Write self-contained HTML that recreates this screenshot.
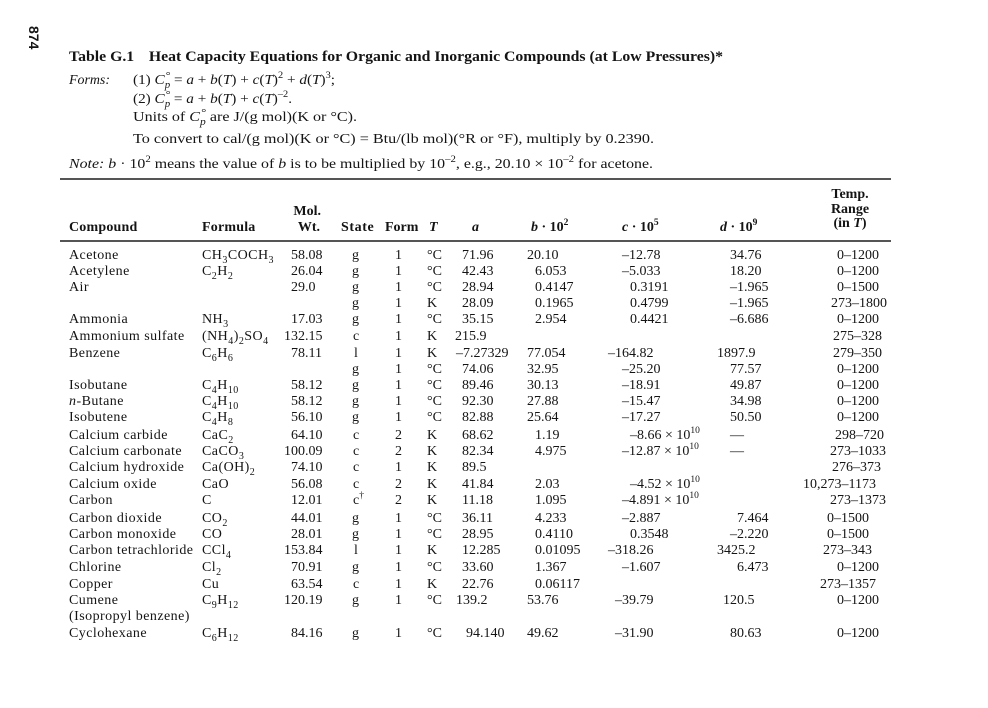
<!DOCTYPE html>
<html>
<head>
<meta charset="utf-8">
<style>
html,body{margin:0;padding:0;background:#fff;}
#pg{position:relative;width:988px;height:708px;overflow:hidden;background:#fff;font-family:"Liberation Serif",serif;font-size:14px;color:#141414;}
.t{position:absolute;white-space:nowrap;line-height:16px;}
.r{position:absolute;left:0;width:988px;height:16px;}
.r>span{position:absolute;top:0;white-space:nowrap;line-height:16px;}
.nm{letter-spacing:0.45px;}
.s{font-size:10px;vertical-align:-4px;line-height:0;}
.p{font-size:9.5px;vertical-align:6px;line-height:0;}
.b{font-weight:bold;}
.rule{position:absolute;left:60px;width:831px;height:1.5px;background:#555;}
.cp{position:relative;}
.cp .dg{position:absolute;left:1px;top:-5px;font-size:11px;font-style:normal;}
.cp .sb{font-size:10px;position:relative;top:4px;font-style:italic;}
.pn{position:absolute;left:27px;top:26px;font-family:"Liberation Sans",sans-serif;font-weight:bold;font-size:14px;line-height:14px;transform-origin:0 0;transform:translate(14px,0) rotate(90deg);}
.r>span.st{left:352px;}
.r>span.stc{left:353px;}
.r>span.stl{left:354px;}
.r>span.fm{left:395px;}
</style>
</head>
<body>
<div id="pg">

<div class="pn">874</div>

<div class="t b fit" style="left:69px;top:48px;font-size:15px;line-height:18px;--w:654px;">Table G.1<span style="display:inline-block;width:14px"></span>Heat Capacity Equations for Organic and Inorganic Compounds (at Low Pressures)*</div>

<div class="t fit" style="left:69px;top:73px;--w:41px;"><i>Forms:</i></div>
<div class="t fit" style="left:133px;top:73px;--w:202px;">(1) <i>C</i><span class="cp"><span class="dg">°</span><span class="sb">p</span></span> = <i>a</i> + <i>b</i>(<i>T</i>) + <i>c</i>(<i>T</i>)<span class="p">2</span> + <i>d</i>(<i>T</i>)<span class="p">3</span>;</div>
<div class="t fit" style="left:133px;top:92px;--w:159px;">(2) <i>C</i><span class="cp"><span class="dg">°</span><span class="sb">p</span></span> = <i>a</i> + <i>b</i>(<i>T</i>) + <i>c</i>(<i>T</i>)<span class="p">–2</span>.</div>
<div class="t fit" style="left:133px;top:110px;--w:224px;">Units of <i>C</i><span class="cp"><span class="dg">°</span><span class="sb">p</span></span> are J/(g mol)(K or °C).</div>
<div class="t fit" style="left:133px;top:132px;--w:521px;">To convert to cal/(g mol)(K or °C) = Btu/(lb mol)(°R or °F), multiply by 0.2390.</div>
<div class="t fit" style="left:69px;top:157px;--w:584px;"><i>Note:</i> <i>b</i> · 10<span class="p">2</span> means the value of <i>b</i> is to be multiplied by 10<span class="p">–2</span>, e.g., 20.10 × 10<span class="p">–2</span> for acetone.</div>

<div class="rule" style="top:178px;"></div>

<!-- header -->
<div class="t b" style="left:69px;top:220px;letter-spacing:0.2px;">Compound</div>
<div class="t b" style="left:202px;top:220px;letter-spacing:0.2px;">Formula</div>
<div class="t b" style="right:667px;top:204px;">Mol.</div>
<div class="t b" style="right:668px;top:220px;">Wt.</div>
<div class="t b" style="left:341px;top:220px;letter-spacing:0.6px;">State</div>
<div class="t b" style="left:385px;top:220px;">Form</div>
<div class="t b" style="left:429px;top:220px;"><i>T</i></div>
<div class="t b" style="left:472px;top:220px;"><i>a</i></div>
<div class="t b" style="left:531px;top:220px;"><i>b</i> · 10<span class="p">2</span></div>
<div class="t b" style="left:622px;top:220px;"><i>c</i> · 10<span class="p">5</span></div>
<div class="t b" style="left:720px;top:220px;"><i>d</i> · 10<span class="p">9</span></div>
<div class="t b" style="left:800px;width:100px;text-align:center;top:187px;">Temp.</div>
<div class="t b" style="left:800px;width:100px;text-align:center;top:202px;">Range</div>
<div class="t b" style="left:800px;width:100px;text-align:center;top:216px;">(in <i>T</i>)</div>

<div class="rule" style="top:240px;"></div>

<!-- rows -->
<div class="r" style="top:248px;">
<span class="nm" style="left:69px;">Acetone</span><span class="nm" style="left:202px;">CH<span class="s">3</span>COCH<span class="s">3</span></span><span style="left:291px;">58.08</span><span class="st">g</span><span class="fm">1</span><span style="left:427px;">°C</span><span style="left:462px;">71.96</span><span style="left:527px;">20.10</span><span style="left:622px;">–12.78</span><span style="left:730px;">34.76</span><span style="left:837px;">0–1200</span>
</div>
<div class="r" style="top:264px;">
<span class="nm" style="left:69px;">Acetylene</span><span class="nm" style="left:202px;">C<span class="s">2</span>H<span class="s">2</span></span><span style="left:291px;">26.04</span><span class="st">g</span><span class="fm">1</span><span style="left:427px;">°C</span><span style="left:462px;">42.43</span><span style="left:535px;">6.053</span><span style="left:622px;">–5.033</span><span style="left:730px;">18.20</span><span style="left:837px;">0–1200</span>
</div>
<div class="r" style="top:280px;">
<span class="nm" style="left:69px;">Air</span><span style="left:291px;">29.0</span><span class="st">g</span><span class="fm">1</span><span style="left:427px;">°C</span><span style="left:462px;">28.94</span><span style="left:535px;">0.4147</span><span style="left:630px;">0.3191</span><span style="left:730px;">–1.965</span><span style="left:837px;">0–1500</span>
</div>
<div class="r" style="top:296px;">
<span class="st">g</span><span class="fm">1</span><span style="left:427px;">K</span><span style="left:462px;">28.09</span><span style="left:535px;">0.1965</span><span style="left:630px;">0.4799</span><span style="left:730px;">–1.965</span><span style="left:831px;">273–1800</span>
</div>
<div class="r" style="top:312px;">
<span class="nm" style="left:69px;">Ammonia</span><span class="nm" style="left:202px;">NH<span class="s">3</span></span><span style="left:291px;">17.03</span><span class="st">g</span><span class="fm">1</span><span style="left:427px;">°C</span><span style="left:462px;">35.15</span><span style="left:535px;">2.954</span><span style="left:630px;">0.4421</span><span style="left:730px;">–6.686</span><span style="left:837px;">0–1200</span>
</div>
<div class="r" style="top:328.5px;">
<span class="nm" style="left:69px;">Ammonium sulfate</span><span class="nm" style="left:202px;">(NH<span class="s">4</span>)<span class="s">2</span>SO<span class="s">4</span></span><span style="left:284px;">132.15</span><span class="stc">c</span><span class="fm">1</span><span style="left:427px;">K</span><span style="left:455px;">215.9</span><span style="left:833px;">275–328</span>
</div>
<div class="r" style="top:345.5px;">
<span class="nm" style="left:69px;">Benzene</span><span class="nm" style="left:202px;">C<span class="s">6</span>H<span class="s">6</span></span><span style="left:291px;">78.11</span><span class="stl">l</span><span class="fm">1</span><span style="left:427px;">K</span><span style="left:456px;">–7.27329</span><span style="left:527px;">77.054</span><span style="left:608px;">–164.82</span><span style="left:717px;">1897.9</span><span style="left:833px;">279–350</span>
</div>
<div class="r" style="top:362px;">
<span class="st">g</span><span class="fm">1</span><span style="left:427px;">°C</span><span style="left:462px;">74.06</span><span style="left:527px;">32.95</span><span style="left:622px;">–25.20</span><span style="left:730px;">77.57</span><span style="left:837px;">0–1200</span>
</div>
<div class="r" style="top:378px;">
<span class="nm" style="left:69px;">Isobutane</span><span class="nm" style="left:202px;">C<span class="s">4</span>H<span class="s">10</span></span><span style="left:291px;">58.12</span><span class="st">g</span><span class="fm">1</span><span style="left:427px;">°C</span><span style="left:462px;">89.46</span><span style="left:527px;">30.13</span><span style="left:622px;">–18.91</span><span style="left:730px;">49.87</span><span style="left:837px;">0–1200</span>
</div>
<div class="r" style="top:394px;">
<span class="nm" style="left:69px;"><i>n</i>-Butane</span><span class="nm" style="left:202px;">C<span class="s">4</span>H<span class="s">10</span></span><span style="left:291px;">58.12</span><span class="st">g</span><span class="fm">1</span><span style="left:427px;">°C</span><span style="left:462px;">92.30</span><span style="left:527px;">27.88</span><span style="left:622px;">–15.47</span><span style="left:730px;">34.98</span><span style="left:837px;">0–1200</span>
</div>
<div class="r" style="top:410px;">
<span class="nm" style="left:69px;">Isobutene</span><span class="nm" style="left:202px;">C<span class="s">4</span>H<span class="s">8</span></span><span style="left:291px;">56.10</span><span class="st">g</span><span class="fm">1</span><span style="left:427px;">°C</span><span style="left:462px;">82.88</span><span style="left:527px;">25.64</span><span style="left:622px;">–17.27</span><span style="left:730px;">50.50</span><span style="left:837px;">0–1200</span>
</div>
<div class="r" style="top:428px;">
<span class="nm" style="left:69px;">Calcium carbide</span><span class="nm" style="left:202px;">CaC<span class="s">2</span></span><span style="left:291px;">64.10</span><span class="stc">c</span><span class="fm">2</span><span style="left:427px;">K</span><span style="left:462px;">68.62</span><span style="left:535px;">1.19</span><span style="left:630px;">–8.66 × 10<span class="p">10</span></span><span style="left:730px;">—</span><span style="left:835px;">298–720</span>
</div>
<div class="r" style="top:444px;">
<span class="nm" style="left:69px;">Calcium carbonate</span><span class="nm" style="left:202px;">CaCO<span class="s">3</span></span><span style="left:284px;">100.09</span><span class="stc">c</span><span class="fm">2</span><span style="left:427px;">K</span><span style="left:462px;">82.34</span><span style="left:535px;">4.975</span><span style="left:622px;">–12.87 × 10<span class="p">10</span></span><span style="left:730px;">—</span><span style="left:830px;">273–1033</span>
</div>
<div class="r" style="top:460px;">
<span class="nm" style="left:69px;">Calcium hydroxide</span><span class="nm" style="left:202px;">Ca(OH)<span class="s">2</span></span><span style="left:291px;">74.10</span><span class="stc">c</span><span class="fm">1</span><span style="left:427px;">K</span><span style="left:462px;">89.5</span><span style="left:832px;">276–373</span>
</div>
<div class="r" style="top:476.5px;">
<span class="nm" style="left:69px;">Calcium oxide</span><span class="nm" style="left:202px;">CaO</span><span style="left:291px;">56.08</span><span class="stc">c</span><span class="fm">2</span><span style="left:427px;">K</span><span style="left:462px;">41.84</span><span style="left:535px;">2.03</span><span style="left:630px;">–4.52 × 10<span class="p">10</span></span><span style="left:803px;">10,273–1173</span>
</div>
<div class="r" style="top:493px;">
<span class="nm" style="left:69px;">Carbon</span><span class="nm" style="left:202px;">C</span><span style="left:291px;">12.01</span><span class="stc">c<span class="p">†</span></span><span class="fm">2</span><span style="left:427px;">K</span><span style="left:462px;">11.18</span><span style="left:535px;">1.095</span><span style="left:622px;">–4.891 × 10<span class="p">10</span></span><span style="left:830px;">273–1373</span>
</div>
<div class="r" style="top:510.5px;">
<span class="nm" style="left:69px;">Carbon dioxide</span><span class="nm" style="left:202px;">CO<span class="s">2</span></span><span style="left:291px;">44.01</span><span class="st">g</span><span class="fm">1</span><span style="left:427px;">°C</span><span style="left:462px;">36.11</span><span style="left:535px;">4.233</span><span style="left:622px;">–2.887</span><span style="left:737px;">7.464</span><span style="left:827px;">0–1500</span>
</div>
<div class="r" style="top:526.5px;">
<span class="nm" style="left:69px;">Carbon monoxide</span><span class="nm" style="left:202px;">CO</span><span style="left:291px;">28.01</span><span class="st">g</span><span class="fm">1</span><span style="left:427px;">°C</span><span style="left:462px;">28.95</span><span style="left:535px;">0.4110</span><span style="left:630px;">0.3548</span><span style="left:730px;">–2.220</span><span style="left:827px;">0–1500</span>
</div>
<div class="r" style="top:543px;">
<span class="nm" style="left:69px;">Carbon tetrachloride</span><span class="nm" style="left:202px;">CCl<span class="s">4</span></span><span style="left:284px;">153.84</span><span class="stl">l</span><span class="fm">1</span><span style="left:427px;">K</span><span style="left:462px;">12.285</span><span style="left:535px;">0.01095</span><span style="left:608px;">–318.26</span><span style="left:717px;">3425.2</span><span style="left:823px;">273–343</span>
</div>
<div class="r" style="top:559.5px;">
<span class="nm" style="left:69px;">Chlorine</span><span class="nm" style="left:202px;">Cl<span class="s">2</span></span><span style="left:291px;">70.91</span><span class="st">g</span><span class="fm">1</span><span style="left:427px;">°C</span><span style="left:462px;">33.60</span><span style="left:535px;">1.367</span><span style="left:622px;">–1.607</span><span style="left:737px;">6.473</span><span style="left:837px;">0–1200</span>
</div>
<div class="r" style="top:576.5px;">
<span class="nm" style="left:69px;">Copper</span><span class="nm" style="left:202px;">Cu</span><span style="left:291px;">63.54</span><span class="stc">c</span><span class="fm">1</span><span style="left:427px;">K</span><span style="left:462px;">22.76</span><span style="left:535px;">0.06117</span><span style="left:820px;">273–1357</span>
</div>
<div class="r" style="top:592.5px;">
<span class="nm" style="left:69px;">Cumene</span><span class="nm" style="left:202px;">C<span class="s">9</span>H<span class="s">12</span></span><span style="left:284px;">120.19</span><span class="st">g</span><span class="fm">1</span><span style="left:427px;">°C</span><span style="left:456px;">139.2</span><span style="left:527px;">53.76</span><span style="left:615px;">–39.79</span><span style="left:723px;">120.5</span><span style="left:837px;">0–1200</span>
</div>
<div class="r" style="top:609px;">
<span class="nm" style="left:69px;">(Isopropyl benzene)</span>
</div>
<div class="r" style="top:626px;">
<span class="nm" style="left:69px;">Cyclohexane</span><span class="nm" style="left:202px;">C<span class="s">6</span>H<span class="s">12</span></span><span style="left:291px;">84.16</span><span class="st">g</span><span class="fm">1</span><span style="left:427px;">°C</span><span style="left:466px;">94.140</span><span style="left:527px;">49.62</span><span style="left:615px;">–31.90</span><span style="left:730px;">80.63</span><span style="left:837px;">0–1200</span>
</div>

</div>
<script>
(function(){
  var els=document.querySelectorAll('.fit');
  for(var i=0;i<els.length;i++){
    var e=els[i];
    var w=parseFloat(e.style.getPropertyValue('--w'));
    var c=e.getBoundingClientRect().width;
    if(c>0&&w>0){e.style.transformOrigin='0 0';e.style.transform='scaleX('+(w/c)+')';}
  }
})();
</script>
</body>
</html>
